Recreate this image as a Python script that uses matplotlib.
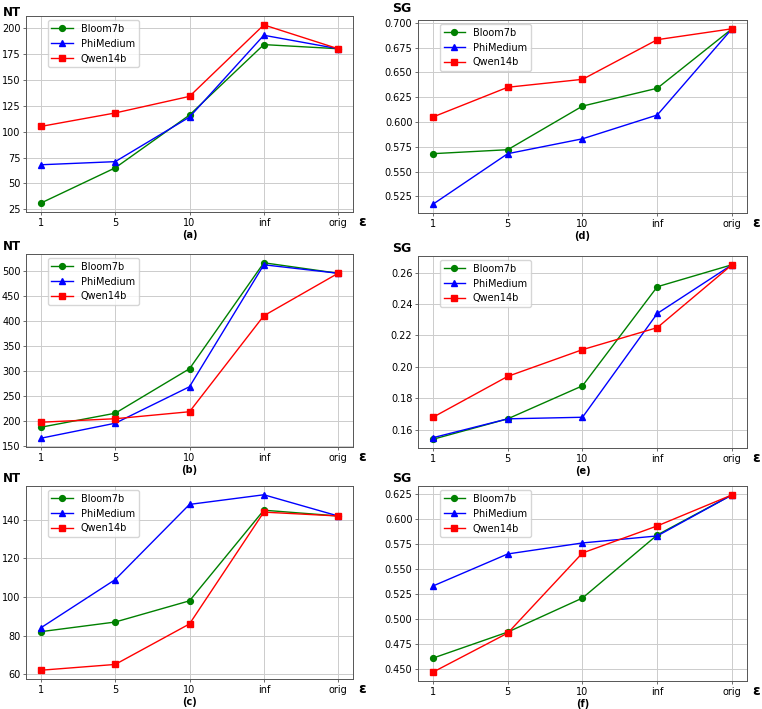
import matplotlib
matplotlib.use("Agg")
import matplotlib.pyplot as plt
from matplotlib.ticker import MultipleLocator, FormatStrFormatter

eps_labels = ["1", "5", "10", "inf", "orig"]
models = ["Bloom7b", "PhiMedium", "Qwen14b"]

# NT / SG values per panel (Bloom7b, PhiMedium, Qwen14b)
nt_a = [[31, 65, 116, 184, 180], [68, 71, 114, 193, 180], [105, 118, 134, 203, 180]]
nt_b = [[187, 215, 304, 516, 495], [165, 195, 268, 512, 495], [197, 204, 218, 410, 495]]
nt_c = [[82, 87, 98, 145, 142], [84, 109, 148, 153, 142], [62, 65, 86, 144, 142]]
sg_d = [[0.568, 0.572, 0.616, 0.634, 0.694], [0.517, 0.568, 0.583, 0.607, 0.694],
        [0.605, 0.635, 0.643, 0.683, 0.694]]
sg_e = [[0.154, 0.167, 0.188, 0.251, 0.265], [0.155, 0.167, 0.168, 0.234, 0.265],
        [0.168, 0.194, 0.211, 0.225, 0.265]]
sg_f = [[0.461, 0.487, 0.521, 0.584, 0.624], [0.533, 0.565, 0.576, 0.583, 0.624],
        [0.447, 0.486, 0.566, 0.593, 0.624]]

colors = ["green", "blue", "red"]
markers = ["o", "^", "s"]

W, H = 762, 709
fig = plt.figure(figsize=(W / 100, H / 100), dpi=100)


def px_axes(left, top, right, bottom):
    return fig.add_axes([left / W, 1 - bottom / H, (right - left) / W, (bottom - top) / H])


# box in pixels (left, top, right, bottom), label centre in pixels
panels = [
    (nt_a, "NT", "(a)", (26, 16, 353, 212), (12, 12), 25, "%d"),
    (sg_d, "SG", "(d)", (418, 20, 747, 213), (402, 9), 0.025, "%.3f"),
    (nt_b, "NT", "(b)", (26, 254, 353, 447), (12, 247), 50, "%d"),
    (sg_e, "SG", "(e)", (418, 256, 747, 448), (402, 249), 0.02, "%.2f"),
    (nt_c, "NT", "(c)", (26, 486, 353, 679), (12, 479), 20, "%d"),
    (sg_f, "SG", "(f)", (418, 486, 747, 681), (402, 479), 0.025, "%.3f"),
]

for data, ylab, tag, box, lab_xy, step, fmt in panels:
    ax = px_axes(*box)
    x = list(range(len(eps_labels)))
    for vals, name, c, m in zip(data, models, colors, markers):
        ax.plot(x, vals, color=c, marker=m, markersize=4.2, linewidth=1, label=name)
    ax.set_xticks(x)
    ax.set_xticklabels(eps_labels)
    ax.yaxis.set_major_locator(MultipleLocator(step))
    ax.yaxis.set_major_formatter(FormatStrFormatter(fmt))
    ax.tick_params(labelsize=7, length=2.5, width=0.6, color="#555555", pad=1.5)
    ax.grid(True, color="#cccccc", linewidth=0.7)
    for s in ax.spines.values():
        s.set_color("#555555")
        s.set_linewidth(0.7)
    ax.legend(loc="upper left", bbox_to_anchor=(0.06, 0.99), fontsize=7,
              borderaxespad=0.2, handlelength=2.2, framealpha=0.8)
    fig.text(lab_xy[0] / W, 1 - lab_xy[1] / H, ylab, ha="center", va="center",
             fontsize=8.5 if ylab == "NT" else 9, fontweight="bold")
    ax.annotate("ε", xy=(1, 0), xycoords="axes fraction", xytext=(6.5, -7.5),
                textcoords="offset points", ha="center", va="center",
                fontsize=10, fontweight="bold")
    ax.annotate(tag, xy=(0.5, 0), xycoords="axes fraction", xytext=(0, -16.5),
                textcoords="offset points", ha="center", va="center",
                fontsize=7, fontweight="bold")

fig.savefig("out.png", dpi=100)
